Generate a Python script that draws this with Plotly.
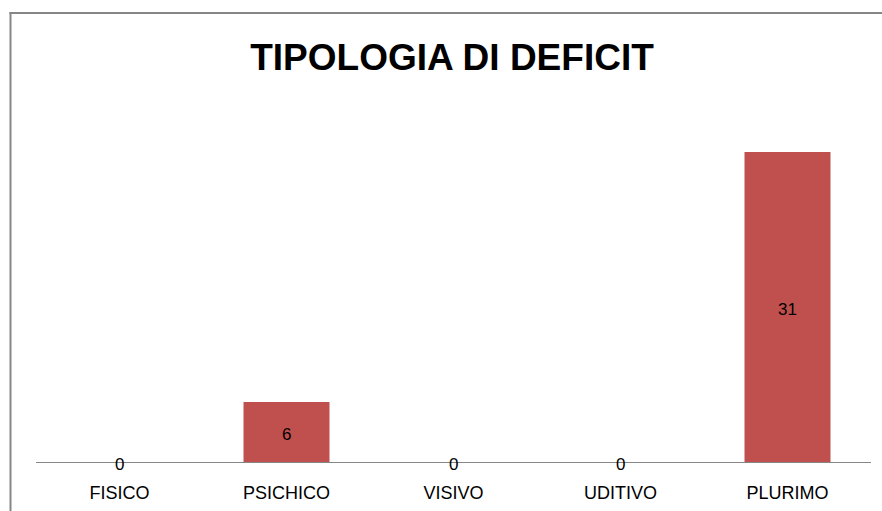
import plotly.graph_objects as go

categories = ["FISICO", "PSICHICO", "VISIVO", "UDITIVO", "PLURIMO"]
values = [0, 6, 0, 0, 31]
title_text = "TIPOLOGIA DI DEFICIT"

W, H = 882, 511
ml, mr, mt, mb = 36, 11, 100, 49
pw, ph = W - ml - mr, H - mt - mb

def px_x(p):
    return (p - ml) / pw

def px_y(p):
    return (H - mb - p) / ph

fig = go.Figure()
fig.add_trace(go.Bar(
    x=categories, y=values, marker_color="#C0504D", marker_line_width=0,
    hoverinfo="skip", showlegend=False,
))

for c, v in zip(categories, values):
    fig.add_annotation(
        x=c, y=v / 2, xref="x", yref="y", text=str(v), showarrow=False,
        xanchor="center", yanchor="middle", yshift=-2,
        font=dict(family="Liberation Sans", size=17, color="#000000"),
    )

fig.update_layout(
    width=W, height=H,
    margin=dict(l=ml, r=mr, t=mt, b=mb, autoexpand=False),
    paper_bgcolor="white", plot_bgcolor="white",
    bargap=0.485,
    title=dict(text="<b>" + title_text + "</b>", x=452 / W, xanchor="center",
               y=1 - 57 / H, yanchor="middle",
               font=dict(family="Liberation Sans", size=37, color="#000000")),
    xaxis=dict(showline=True, linecolor="#868686", linewidth=1, ticks="",
               tickfont=dict(family="Liberation Sans", size=18, color="#000000"),
               ticklabelstandoff=14, automargin=False,
               showgrid=False, zeroline=False, fixedrange=True),
    yaxis=dict(range=[0, ph / 10], visible=False, showgrid=False, zeroline=False,
               automargin=False, fixedrange=True),
    shapes=[
        dict(type="line", xref="paper", yref="paper", x0=px_x(10.5), x1=px_x(10.5),
             y0=px_y(12), y1=px_y(H + 20), line=dict(color="#868686", width=2)),
        dict(type="line", xref="paper", yref="paper", x0=px_x(9.5), x1=px_x(W + 30),
             y0=px_y(13), y1=px_y(13), line=dict(color="#868686", width=2)),
    ],
)

fig.write_html("out.html", config={"displayModeBar": False},
               post_script="document.body.style.margin='0';document.body.style.overflow='hidden';")
